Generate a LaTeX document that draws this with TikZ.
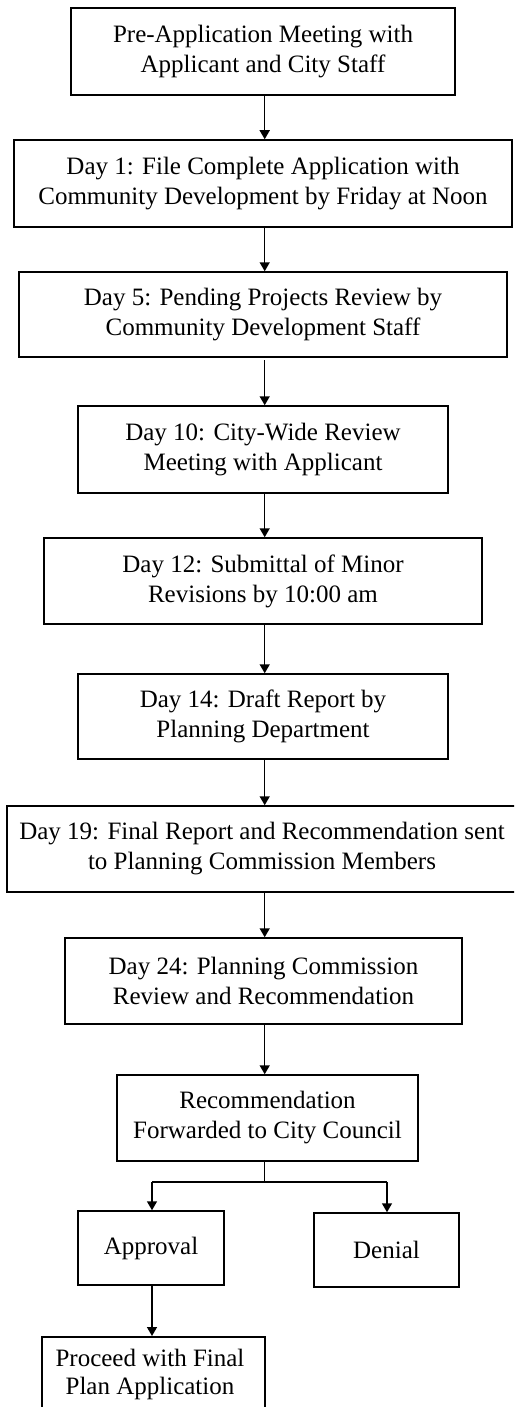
\documentclass[tikz,border=0pt]{standalone}
\usepackage{fontspec}
\setmainfont{Liberation Serif}
\usetikzlibrary{arrows.meta}
\begin{document}
\begin{tikzpicture}[x=1pt,y=-1pt,
  stepbox/.style={draw, line width=1.5pt, inner sep=0pt, align=center,
    font=\fontsize{25}{30}\selectfont},
  flow/.style={line width=1.5pt, -{Triangle[width=10pt,length=9pt]}},
  plain/.style={line width=1.5pt}]
\useasboundingbox (0,0) rectangle (514,1407);
\begin{scope}
\clip (0,0) rectangle (514,1407);
\node[stepbox, minimum width=384pt, minimum height=87pt] (b1) at (263,51.5) {Pre-Application Meeting with\\Applicant and City Staff};
\node[stepbox, minimum width=498pt, minimum height=87pt] (b2) at (263,183.5) {Day 1: File Complete Application with\\Community Development by Friday at Noon};
\node[stepbox, minimum width=488pt, minimum height=85pt] (b3) at (263,314.5) {Day 5: Pending Projects Review by\\Community Development Staff};
\node[stepbox, minimum width=370pt, minimum height=87pt] (b4) at (263,449.5) {Day 10: City-Wide Review\\Meeting with Applicant};
\node[stepbox, minimum width=438pt, minimum height=86pt] (b5) at (263,581) {Day 12: Submittal of Minor\\Revisions by 10:00 am};
\node[stepbox, minimum width=370pt, minimum height=85pt] (b6) at (263,716.5) {Day 14: Draft Report by\\Planning Department};
\node[stepbox, minimum width=510pt, minimum height=86pt] (b7) at (262,849) {Day 19: Final Report and Recommendation sent\\to Planning Commission Members};
\node[stepbox, minimum width=397pt, minimum height=86pt] (b8) at (263.5,981) {Day 24: Planning Commission\\Review and Recommendation};
\node[stepbox, minimum width=301pt, minimum height=86pt] (b9) at (267.5,1118) {Recommendation\\Forwarded to City Council};
\node[stepbox, minimum width=146pt, minimum height=74pt] (ap) at (151,1248) {Approval};
\node[stepbox, minimum width=145pt, minimum height=74pt] (dn) at (386.5,1250) {Denial};
\node[stepbox, minimum width=223pt, minimum height=90pt, anchor=north] (fp) at (153.5,1336) {};
\node[font=\fontsize{25}{28}\selectfont, align=center, anchor=north, inner sep=0pt] (fpt) at (150,1349) {Proceed with Final\\Plan Application};
\coordinate (split) at (264.7,1182);
\coordinate (la) at (152,1182);
\coordinate (ra) at (387,1182);
\draw[flow] (b1.south -| 264.7,0) -- (b2.north -| 264.7,0);
\draw[flow] (b2.south -| 264.7,0) -- (b3.north -| 264.7,0);
\draw[flow] (264.7,360) -- (b4.north -| 264.7,0);
\draw[flow] (b4.south -| 264.7,0) -- (b5.north -| 264.7,0);
\draw[flow] (b5.south -| 264.7,0) -- (b6.north -| 264.7,0);
\draw[flow] (b6.south -| 264.7,0) -- (b7.north -| 264.7,0);
\draw[flow] (b7.south -| 264.7,0) -- (b8.north -| 264.7,0);
\draw[flow] (b8.south -| 264.7,0) -- (b9.north -| 264.7,0);
\draw[plain] (b9.south -| split) -- (split);
\draw[flow] (la) -- (ap.north -| la);
\draw[flow] (ra) -- (dn.north -| ra);
\draw[plain] (la) -- (ra);
\draw[flow] (ap.south -| la) -- (fp.north -| la);
\end{scope}
\end{tikzpicture}
\end{document}
